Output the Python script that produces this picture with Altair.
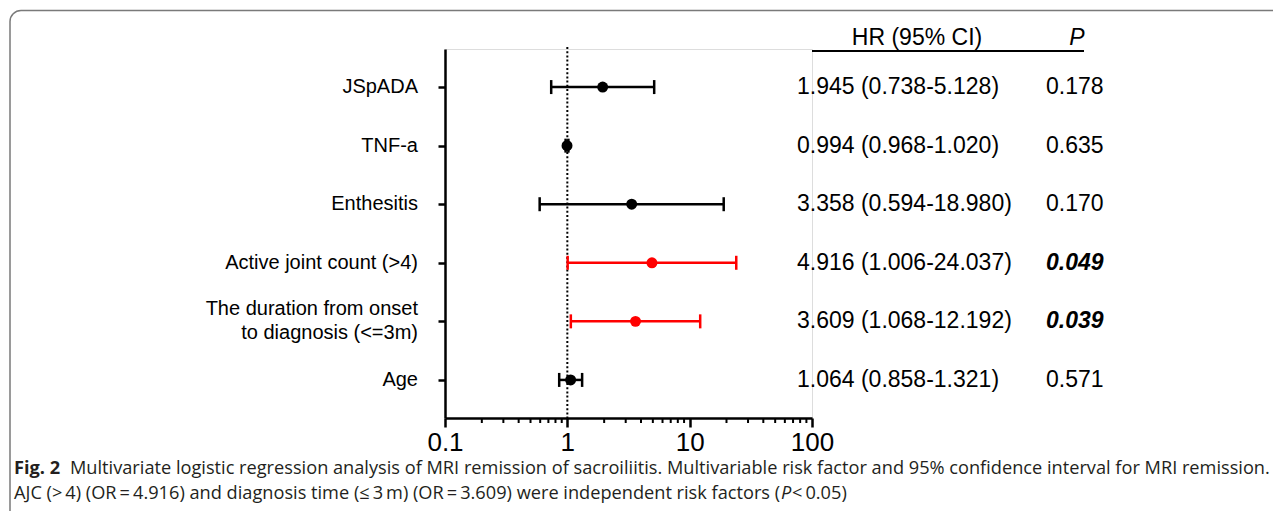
import altair as alt
import pandas as pd

# ---- data ----
labels = [
    "JSpADA",
    "TNF-a",
    "Enthesitis",
    "Active joint count (>4)",
    "The duration from onset\nto diagnosis (<=3m)",
    "Age",
]
rows = [1, 2, 3, 4, 5, 6]
hr = [1.945, 0.994, 3.358, 4.916, 3.609, 1.064]
lo = [0.738, 0.968, 0.594, 1.006, 1.068, 0.858]
hi = [5.128, 1.020, 18.980, 24.037, 12.192, 1.321]
pval = [0.178, 0.635, 0.170, 0.049, 0.039, 0.571]
group = ["ns", "ns", "ns", "sig", "sig", "ns"]

x_ticks = [0.1, 1, 10, 100]
minor_ticks = [0.2, 0.3, 0.4, 0.5, 0.6, 0.7, 0.8, 0.9,
               2, 3, 4, 5, 6, 7, 8, 9,
               20, 30, 40, 50, 60, 70, 80, 90]
ref_value = [1]

header_hr = "HR (95% CI)"
header_p = "P"
caption_bold = "Fig. 2"
caption_line1 = ("Multivariate logistic regression analysis of MRI remission of sacroiliitis. "
                 "Multivariable risk factor and 95% confidence interval for MRI remission.")
caption_line2a = ("AJC (>\u20094) (OR\u2009=\u20094.916) and diagnosis time (\u2264\u20093\u2009m) "
                  "(OR\u2009=\u20093.609) were independent risk factors (")
caption_line2b = "P"
caption_line2c = "\u2009<\u20090.05)"

# ---- tables ----
df = pd.DataFrame({
    "row": rows, "label": labels, "hr": hr, "lo": lo, "hi": hi,
    "p": pval, "grp": group,
})
df["hr_text"] = [f"{h:.3f} ({l:.3f}-{u:.3f})" for h, l, u in zip(hr, lo, hi)]
df["p_text"] = [f"{p:.3f}" for p in pval]

minor_df = pd.DataFrame({"m": minor_ticks})
ref_df = pd.DataFrame({"ref": ref_value})
one = pd.DataFrame({"k": [0]})

W, H = 367, 369
FONT = "Liberation Sans"
CAP_FONT = "Open Sans"
CAP_SIZE = 18.2

xscale = alt.Scale(type="log", domain=[0.1, 100], nice=False)
xaxis = alt.Axis(values=x_ticks, format="~g", title=None, grid=False,
                 domainColor="black", domainWidth=2.5, tickColor="black",
                 tickWidth=2.5, tickSize=9, labelFontSize=26, labelFont=FONT,
                 labelColor="black", labelPadding=2, labelFlush=False)
yscale = alt.Scale(domain=[0.35, 6.65], reverse=True, nice=False, zero=False)
yaxis = alt.Axis(values=rows, labels=False, title=None, grid=False,
                 domainColor="black", domainWidth=2.5, tickColor="black",
                 tickWidth=2.5, tickSize=7)


def X(field):
    return alt.X(field, type="quantitative", scale=xscale, axis=xaxis)


def Y(field):
    return alt.Y(field, type="quantitative", scale=yscale, axis=yaxis)


color = alt.Color("grp:N", scale=alt.Scale(domain=["ns", "sig"], range=["#000000", "#ff0000"]),
                  legend=None)

base = alt.Chart(df)

ref_line = alt.Chart(ref_df).mark_rule(color="black", strokeWidth=2, strokeDash=[2, 2.2]).encode(
    x=X("ref"), y=alt.value(-2), y2=alt.value(H)
)

minor = alt.Chart(minor_df).mark_rule(color="black", strokeWidth=2).encode(
    x=X("m"), y=alt.value(H), y2=alt.value(H + 5)
)

bars = base.mark_rule(strokeWidth=2.5).encode(x=X("lo"), x2="hi", y=Y("row"), color=color)
cap_lo = base.mark_tick(orient="vertical", size=14, thickness=2.5, opacity=1).encode(
    x=X("lo"), y=Y("row"), color=color)
cap_hi = base.mark_tick(orient="vertical", size=14, thickness=2.5, opacity=1).encode(
    x=X("hi"), y=Y("row"), color=color)
points = base.mark_circle(size=120, opacity=1).encode(x=X("hr"), y=Y("row"), color=color)

is_multi = "indexof(datum.label, '\\n') >= 0"
ylabels_single = base.transform_filter("!(" + is_multi + ")").mark_text(
    align="right", baseline="middle", font=FONT, fontSize=20, color="black").encode(
    x=alt.value(-27), y=Y("row"), text="label")
ylabels_multi = base.transform_filter(is_multi).mark_text(
    align="right", baseline="middle", font=FONT, fontSize=20, lineBreak="\n",
    lineHeight=24, dy=-12, color="black").encode(
    x=alt.value(-27), y=Y("row"), text="label")

hr_col = base.mark_text(align="left", baseline="middle", font=FONT, fontSize=23,
                        color="black").encode(x=alt.value(352), y=Y("row"), text="hr_text")

p_ns = base.transform_filter(alt.datum.grp == "ns").mark_text(
    align="left", baseline="middle", font=FONT, fontSize=23, color="black").encode(
    x=alt.value(601), y=Y("row"), text="p_text")
p_sig = base.transform_filter(alt.datum.grp == "sig").mark_text(
    align="left", baseline="middle", font=FONT, fontSize=23, color="black",
    fontWeight="bold", fontStyle="italic").encode(
    x=alt.value(601), y=Y("row"), text="p_text")

hdr_hr = alt.Chart(one).mark_text(align="center", baseline="middle", font=FONT, fontSize=23,
                                  color="black").encode(
    x=alt.value(472), y=alt.value(-11), text=alt.value(header_hr))
hdr_p = alt.Chart(one).mark_text(align="center", baseline="middle", font=FONT, fontSize=23,
                                 fontStyle="italic", color="black").encode(
    x=alt.value(632), y=alt.value(-11), text=alt.value(header_p))
hdr_rule = alt.Chart(one).mark_rule(color="black", strokeWidth=2).encode(
    x=alt.value(367), x2=alt.value(639), y=alt.value(2))

border = alt.Chart(one).mark_rect(filled=False, stroke="#7a7a7a", strokeWidth=1.5,
                                  cornerRadius=11).encode(
    x=alt.value(-435), x2=alt.value(1200), y=alt.value(-38.5), y2=alt.value(800))

CAP_X = 14 - 445
L1_Y = 469 - 49
L2_Y = 494 - 49
cap_style = dict(align="left", baseline="middle", font=CAP_FONT, fontSize=CAP_SIZE,
                 color="#231f20")
cap1a = alt.Chart(one).mark_text(fontWeight="bold", **cap_style).encode(
    x=alt.value(CAP_X), y=alt.value(L1_Y), text=alt.value(caption_bold))
cap1b = alt.Chart(one).mark_text(**cap_style).encode(
    x=alt.value(70 - 445), y=alt.value(L1_Y), text=alt.value(caption_line1))
cap2a = alt.Chart(one).mark_text(**cap_style).encode(
    x=alt.value(CAP_X), y=alt.value(L2_Y), text=alt.value(caption_line2a))
cap2b = alt.Chart(one).mark_text(fontStyle="italic", **cap_style).encode(
    x=alt.value(781 - 445), y=alt.value(L2_Y), text=alt.value(caption_line2b))
cap2c = alt.Chart(one).mark_text(**cap_style).encode(
    x=alt.value(792 - 445), y=alt.value(L2_Y), text=alt.value(caption_line2c))

chart = alt.layer(
    border, ref_line, minor, bars, cap_lo, cap_hi, points, ylabels_single, ylabels_multi,
    hr_col, p_ns, p_sig, hdr_hr, hdr_p, hdr_rule, cap1a, cap1b, cap2a, cap2b, cap2c,
).properties(
    width=W, height=H,
    autosize=alt.AutoSizeParams(type="none"),
    padding={"left": 437, "top": 41, "right": 461, "bottom": 93},
).configure_view(stroke=None).configure(background="white")

chart.save("out.html", embed_options={"renderer": "svg", "actions": False})
